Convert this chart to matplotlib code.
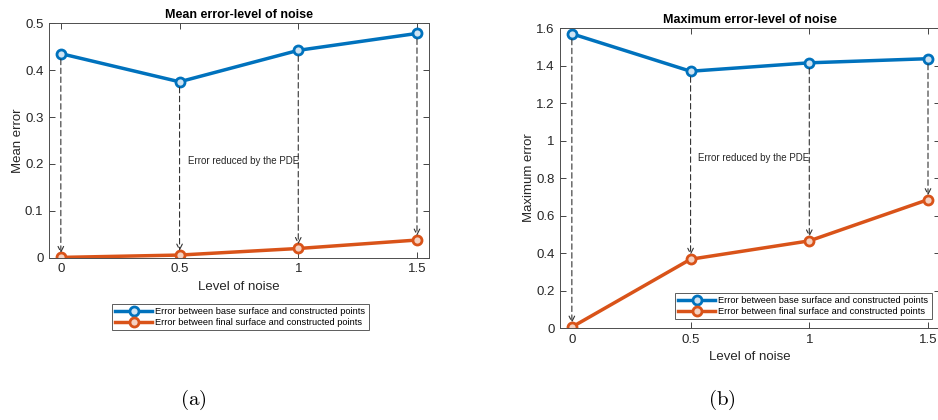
import matplotlib
matplotlib.use("Agg")
from matplotlib import pyplot as plt

plt.rcParams['font.family'] = ['Liberation Sans', 'DejaVu Sans']
plt.rcParams['mathtext.fontset'] = 'cm'

# data
noise = [0, 0.5, 1, 1.5]
mean_base = [0.435, 0.375, 0.442, 0.478]
mean_final = [0.001, 0.006, 0.020, 0.038]
max_base = [1.570, 1.370, 1.415, 1.437]
max_final = [0.005, 0.367, 0.465, 0.685]

base_label = "Error between base surface and constructed points"
final_label = "Error between final surface and constructed points"
blue = "#0072BD"
orange = "#D95319"
spine_col = "#4d4d4d"


def style_axis(ax):
    ax.tick_params(direction="in", top=True, right=True, labelsize=9.5,
                   colors="#262626", length=4, width=0.6, pad=4)
    for s in ax.spines.values():
        s.set_color(spine_col)
        s.set_linewidth(0.7)


def draw_panel(ax, base, final, title, ylabel, ylim, yticks, text_xy):
    ax.plot(noise, base, "-o", color=blue, lw=2.5, ms=6.5, mew=2,
            mfc="#cfe3f2", label=base_label)
    ax.plot(noise, final, "-o", color=orange, lw=2.5, ms=6.5, mew=2,
            mfc="#f5d2c2", label=final_label)
    # dashed arrows from base error down to final error
    for x, b, f in zip(noise, base, final):
        ax.annotate("", xy=(x, f), xytext=(x, b),
                    arrowprops=dict(arrowstyle="->", linestyle=(0, (5, 3)),
                                    color="#333333", lw=0.8,
                                    shrinkA=4, shrinkB=3))
    ax.text(text_xy[0], text_xy[1], "Error reduced by the PDE", fontsize=7,
            color="#262626")
    ax.set_xlim(-0.05, 1.55)
    ax.set_ylim(*ylim)
    ax.set_xticks(noise)
    ax.set_xticklabels(["0", "0.5", "1", "1.5"])
    ax.set_yticks(yticks)
    ax.set_yticklabels([f"{v:g}" for v in yticks])
    ax.set_title(title, fontsize=9, fontweight="bold", pad=4)
    ax.set_xlabel("Level of noise", fontsize=9.5, color="#262626", labelpad=4)
    ax.set_ylabel(ylabel, fontsize=9.5, color="#262626", labelpad=1)
    style_axis(ax)


fig = plt.figure(figsize=(9.38, 4.2), dpi=100)
ax1 = fig.add_axes([0.0522, 0.386, 0.405, 0.559])
ax2 = fig.add_axes([0.597, 0.219, 0.405, 0.714])

draw_panel(ax1, mean_base, mean_final, "Mean error-level of noise",
           "Mean error", (0, 0.5), [0, 0.1, 0.2, 0.3, 0.4, 0.5], (0.535, 0.2))
draw_panel(ax2, max_base, max_final, "Maximum error-level of noise",
           "Maximum error", (0, 1.6), [0, 0.2, 0.4, 0.6, 0.8, 1, 1.2, 1.4, 1.6],
           (0.53, 0.89))

leg1 = ax1.legend(loc="upper left", bbox_to_anchor=(112 / 938, 1 - 304 / 420),
                  bbox_transform=fig.transFigure, fontsize=6.7, frameon=True,
                  fancybox=False, borderpad=0.35, labelspacing=0.2,
                  handlelength=4, handletextpad=0.3, borderaxespad=0)
leg2 = ax2.legend(loc="upper left", bbox_to_anchor=(675 / 938, 1 - 293 / 420),
                  bbox_transform=fig.transFigure, fontsize=6.7, frameon=True,
                  fancybox=False, borderpad=0.35, labelspacing=0.2,
                  handlelength=4, handletextpad=0.3, borderaxespad=0)
for leg in (leg1, leg2):
    leg.get_frame().set_edgecolor("#333333")
    leg.get_frame().set_linewidth(0.7)

fig.text(193 / 938, 1 - 400 / 420, r"$\mathrm{(a)}$", fontsize=15,
         ha="center", va="center")
fig.text(722 / 938, 1 - 400 / 420, r"$\mathrm{(b)}$", fontsize=15,
         ha="center", va="center")

fig.savefig("out.png", dpi=100)
